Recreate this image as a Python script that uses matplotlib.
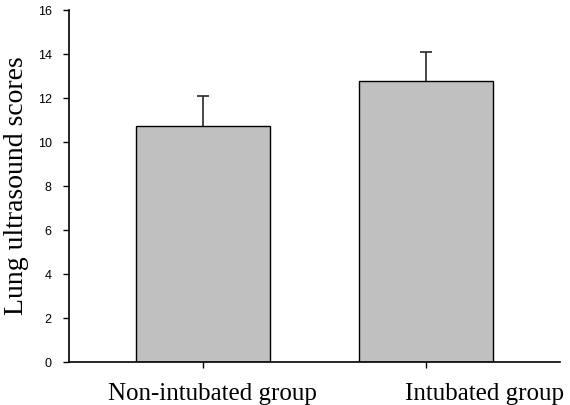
import matplotlib
matplotlib.use('Agg')
import matplotlib.pyplot as plt
import numpy as np

groups = ['Non-intubated group', 'Intubated group']
means = [10.74, 12.79]
sds = [1.36, 1.3]

# labels in the original sit right of their ticks (points)
label_shift = [7, 42]

fig = plt.figure(figsize=(5.7, 4.05), dpi=100)
ax = fig.add_axes([0.121, 0.106, 0.861, 0.869])

x = np.arange(len(groups))
ax.bar(x, means, width=0.6, color='#c0c0c0', edgecolor='black', linewidth=1.0, zorder=2)
_, caps, _ = ax.errorbar(x, means, yerr=[np.zeros(len(sds)), sds], fmt='none', ecolor='#383838',
                         elinewidth=1.3, capsize=4, capthick=1.3, zorder=1)
caps[0].set_visible(False)  # no cap at the bar top

ax.set_xlim(-0.6, 1.6)
ax.set_ylim(0, 16)
ax.set_yticks(range(0, 17, 2))
ax.set_xticks(x)
ax.set_xticklabels([])
for xi, name, dx in zip(x, groups, label_shift):
    ax.annotate(name, xy=(xi, 0), xycoords=('data', 'axes fraction'),
                xytext=(dx, -15), textcoords='offset points', ha='center', va='top',
                fontfamily='Liberation Serif', fontsize=18)
for lab in ax.get_yticklabels():
    lab.set_fontfamily('Liberation Sans')
    lab.set_fontsize(9)
ax.tick_params(axis='y', direction='out', length=4.5, width=1, pad=8)
ax.tick_params(axis='x', direction='out', length=4, width=1)

ax.set_ylabel('Lung ultrasound scores', fontfamily='Liberation Serif', fontsize=20)
ax.yaxis.label.set_va('center')
ax.yaxis.set_label_coords(-0.106, 0.5)

for side in ['top', 'right']:
    ax.spines[side].set_visible(False)
for side in ['left', 'bottom']:
    ax.spines[side].set_linewidth(1.2)

fig.savefig('out.png', dpi=100)
